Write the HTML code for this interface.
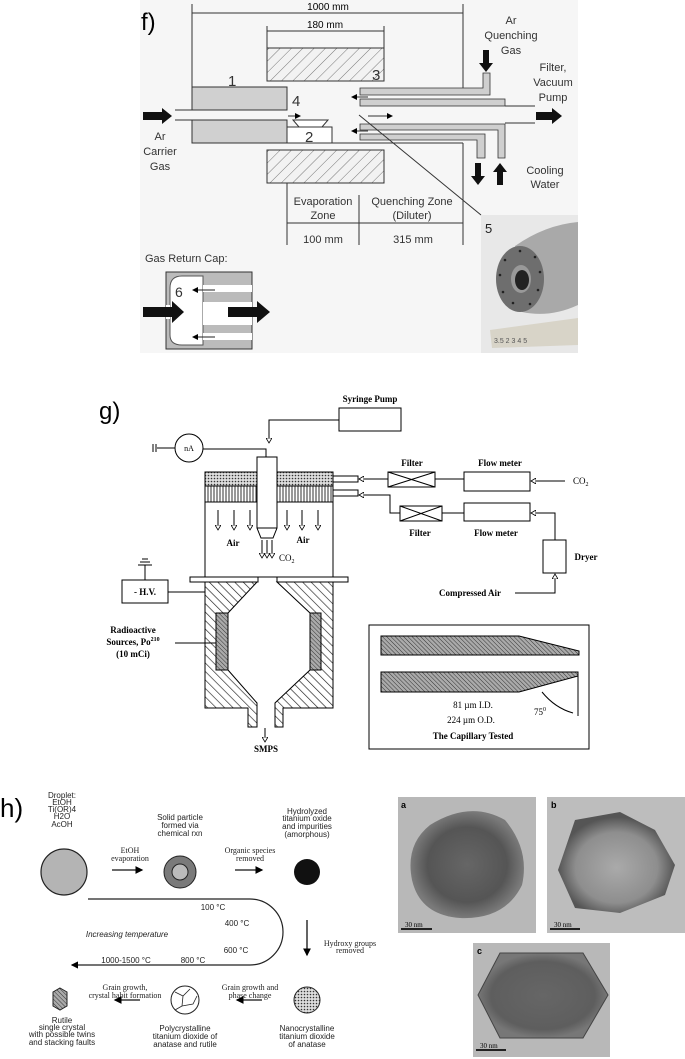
<!DOCTYPE html>
<html><head><meta charset="utf-8"><style>
html,body{margin:0;padding:0;background:#fff;}
svg{display:block;}
text{font-family:"Liberation Sans",sans-serif;}
.s, .s text, text.s{font-family:"Liberation Serif",serif;}
</style></head><body>
<svg width="685" height="1059" viewBox="0 0 685 1059" xmlns="http://www.w3.org/2000/svg">
<defs>
<pattern id="h1" width="8" height="8" patternUnits="userSpaceOnUse" patternTransform="rotate(45)"><rect width="8" height="8" fill="#f2f2f2"/><line x1="0" y1="0" x2="0" y2="8" stroke="#777" stroke-width="1"/></pattern>
<pattern id="h2" width="6" height="6" patternUnits="userSpaceOnUse" patternTransform="rotate(-45)"><rect width="6" height="6" fill="#fff"/><line x1="0" y1="0" x2="0" y2="6" stroke="#222" stroke-width="1.3"/></pattern>
<pattern id="h3" width="3" height="3" patternUnits="userSpaceOnUse" patternTransform="rotate(-45)"><rect width="3" height="3" fill="#aaa"/><line x1="0" y1="0" x2="0" y2="3" stroke="#333" stroke-width="1"/></pattern>
<pattern id="dots" width="3" height="3" patternUnits="userSpaceOnUse"><rect width="3" height="3" fill="#ddd"/><circle cx="1.5" cy="1.5" r="0.8" fill="#333"/></pattern>
<pattern id="vl" width="3" height="3" patternUnits="userSpaceOnUse"><rect width="3" height="3" fill="#fff"/><line x1="1" y1="0" x2="1" y2="3" stroke="#333" stroke-width="1"/></pattern>
<radialGradient id="ga" cx="50%" cy="50%" r="50%"><stop offset="0" stop-color="#666"/><stop offset="0.7" stop-color="#555"/><stop offset="1" stop-color="#7a7a7a"/></radialGradient>
<radialGradient id="gb" cx="50%" cy="55%" r="50%"><stop offset="0" stop-color="#aaa"/><stop offset="0.7" stop-color="#8e8e8e"/><stop offset="1" stop-color="#555"/></radialGradient>
<radialGradient id="gc" cx="50%" cy="50%" r="50%"><stop offset="0" stop-color="#666"/><stop offset="0.8" stop-color="#5e5e5e"/><stop offset="1" stop-color="#777"/></radialGradient>
<marker id="oa" markerWidth="6" markerHeight="6" refX="5" refY="3" orient="auto"><path d="M0,0 L5,3 L0,6 Z" fill="#fff" stroke="#000" stroke-width="0.8"/></marker>
<marker id="fa" markerWidth="6" markerHeight="6" refX="5" refY="3" orient="auto"><path d="M0,0 L6,3 L0,6 Z" fill="#000"/></marker>
</defs>

<!-- ================= f ================= -->
<rect x="140" y="0" width="438" height="353" fill="#f6f6f6"/>
<text x="141" y="30" font-size="24">f)</text>
<g stroke="#333" stroke-width="1" fill="none">
<line x1="192" y1="4" x2="192" y2="87"/><line x1="463" y1="4" x2="463" y2="88"/>
<line x1="192" y1="13" x2="463" y2="13"/>
<line x1="267" y1="26" x2="267" y2="48"/><line x1="384" y1="26" x2="384" y2="48"/>
<line x1="267" y1="31" x2="384" y2="31"/>
</g>
<text x="328" y="10" font-size="10" text-anchor="middle">1000 mm</text>
<text x="325" y="28" font-size="10" text-anchor="middle">180 mm</text>
<rect x="267" y="48" width="117" height="33" fill="url(#h1)" stroke="#333"/>
<rect x="267" y="150" width="117" height="33" fill="url(#h1)" stroke="#333"/>
<text x="372" y="80" font-size="15" fill="#333">3</text>
<rect x="192" y="87" width="95" height="23" fill="#d0d0d0" stroke="#333"/>
<rect x="192" y="120" width="95" height="23" fill="#d0d0d0" stroke="#333"/>
<text x="228" y="86" font-size="15" fill="#333">1</text>
<text x="292" y="106" font-size="15" fill="#333">4</text>
<line x1="175" y1="110" x2="192" y2="110" stroke="#333"/><line x1="175" y1="120" x2="192" y2="120" stroke="#333"/>
<line x1="287" y1="143" x2="463" y2="143" stroke="#333"/>
<rect x="287" y="127" width="45" height="16" fill="#fff" stroke="#333"/>
<path d="M293,120 L328,120 L322,127 L299,127 Z" fill="#fff" stroke="#333"/>
<text x="305" y="142" font-size="15" fill="#333">2</text>
<g fill="#cfcfcf" stroke="#333" stroke-width="0.8">
<path d="M360,88 L483,88 L483,73 L490,73 L490,95 L360,95 Z"/>
<rect x="360" y="99" width="145" height="7"/>
<path d="M360,124 L505,124 L505,158 L498,158 L498,130 L360,130 Z"/>
<path d="M360,134 L485,134 L485,158 L477,158 L477,140 L360,140 Z"/>
</g>
<line x1="505" y1="106" x2="535" y2="106" stroke="#333"/><line x1="505" y1="123" x2="535" y2="123" stroke="#333"/>
<line x1="463" y1="143" x2="463" y2="245" stroke="#333"/>
<g stroke="#333" stroke-width="1">
<line x1="288" y1="116" x2="300" y2="116" marker-end="url(#fa)"/>
<line x1="368" y1="116" x2="392" y2="116" marker-end="url(#fa)"/>
<line x1="368" y1="97" x2="352" y2="97" marker-end="url(#fa)"/>
<line x1="368" y1="131" x2="352" y2="131" marker-end="url(#fa)"/>
<line x1="359" y1="115" x2="481" y2="215"/>
</g>
<g fill="#111">
<path d="M143,112 L162,112 L162,108 L172,116 L162,124 L162,120 L143,120 Z"/>
<path d="M536,112 L552,112 L552,108 L562,116 L552,124 L552,120 L536,120 Z"/>
<path d="M483,50 L489,50 L489,63 L493,63 L486,72 L479,63 L483,63 Z"/>
<path d="M475,163 L481,163 L481,176 L485,176 L478,185 L471,176 L475,176 Z"/>
<path d="M497,185 L503,185 L503,172 L507,172 L500,163 L493,172 L497,172 Z"/>
</g>
<text font-size="11" text-anchor="middle" fill="#333"><tspan x="160" y="140">Ar</tspan><tspan x="160" y="155">Carrier</tspan><tspan x="160" y="170">Gas</tspan></text>
<text font-size="11" text-anchor="middle" fill="#333"><tspan x="511" y="24">Ar</tspan><tspan x="511" y="39">Quenching</tspan><tspan x="511" y="54">Gas</tspan></text>
<text font-size="11" text-anchor="middle" fill="#333"><tspan x="553" y="71">Filter,</tspan><tspan x="553" y="86">Vacuum</tspan><tspan x="553" y="101">Pump</tspan></text>
<text font-size="11" text-anchor="middle" fill="#333"><tspan x="545" y="174">Cooling</tspan><tspan x="545" y="188">Water</tspan></text>
<g stroke="#333"><line x1="287" y1="183" x2="287" y2="245"/><line x1="359" y1="195" x2="359" y2="245"/>
<line x1="287" y1="223" x2="463" y2="223"/></g>
<text font-size="11" text-anchor="middle" fill="#333"><tspan x="323" y="205">Evaporation</tspan><tspan x="323" y="219">Zone</tspan></text>
<text font-size="11" text-anchor="middle" fill="#333"><tspan x="412" y="205">Quenching Zone</tspan><tspan x="412" y="219">(Diluter)</tspan></text>
<text x="323" y="243" font-size="11" text-anchor="middle" fill="#333">100 mm</text>
<text x="413" y="243" font-size="11" text-anchor="middle" fill="#333">315 mm</text>
<text x="145" y="262" font-size="11" fill="#333">Gas Return Cap:</text>
<rect x="166" y="272" width="86" height="77" fill="#bbb" stroke="#333"/>
<path d="M182,276 Q170,276 170,288 L170,335 Q170,345 182,345 L203,345 L203,276 Z" fill="#fff" stroke="#555"/>
<g fill="#fff"><rect x="203" y="285" width="49" height="7"/><rect x="203" y="302" width="49" height="23"/><rect x="203" y="333" width="49" height="7"/></g>
<rect x="166" y="305" width="4" height="14" fill="#fff"/>
<text x="175" y="297" font-size="14" fill="#333">6</text>
<g stroke="#222"><line x1="215" y1="290" x2="193" y2="290" marker-end="url(#fa)"/><line x1="215" y1="337" x2="193" y2="337" marker-end="url(#fa)"/></g>
<g fill="#111"><path d="M143,307 L172,307 L172,301 L184,312 L172,323 L172,317 L143,317 Z"/>
<path d="M228,307 L257,307 L257,301 L270,312 L257,323 L257,317 L228,317 Z"/></g>
<!-- photo -->
<rect x="481" y="215" width="97" height="138" fill="#e8e8e8"/>
<path d="M515,246 Q545,225 578,222 L578,305 Q550,318 522,312 Z" fill="#a9a9a9"/>
<ellipse cx="520" cy="279" rx="24" ry="33" fill="#6e6e6e"/>
<ellipse cx="521" cy="279" rx="10" ry="14" fill="#999"/><ellipse cx="522" cy="280" rx="7" ry="10" fill="#222"/>
<g fill="#222"><circle cx="505" cy="260" r="1.3"/><circle cx="500" cy="275" r="1.3"/><circle cx="503" cy="292" r="1.3"/><circle cx="513" cy="303" r="1.3"/><circle cx="530" cy="304" r="1.3"/><circle cx="538" cy="290" r="1.3"/><circle cx="540" cy="272" r="1.3"/><circle cx="535" cy="257" r="1.3"/><circle cx="520" cy="251" r="1.3"/></g>
<path d="M490,330 L578,318 L578,345 L492,348 Z" fill="#d8d4c8"/>
<text x="494" y="343" font-size="7" fill="#555">3.5 2 3 4 5</text>
<text x="485" y="233" font-size="13" fill="#222">5</text>

<!-- ================= g ================= -->
<text x="99" y="419" font-size="24">g)</text>
<text x="370" y="402" font-size="9" class="s" text-anchor="middle" font-weight="bold">Syringe Pump</text>
<rect x="339" y="408" width="62" height="23" fill="none" stroke="#000"/>
<path d="M339,420 L269,420 L269,443" fill="none" stroke="#000" marker-end="url(#oa)"/>
<circle cx="189" cy="448" r="14" fill="none" stroke="#000"/>
<text x="189" y="451" font-size="8" class="s" text-anchor="middle">nA</text>
<line x1="153" y1="444" x2="153" y2="452" stroke="#000"/><line x1="156" y1="444" x2="156" y2="452" stroke="#000"/>
<line x1="157" y1="448" x2="175" y2="448" stroke="#000"/>
<path d="M203,449 L266,449 L266,457" fill="none" stroke="#000"/>
<rect x="205" y="472" width="128" height="105" fill="#fff" stroke="#000"/>
<rect x="205" y="472" width="57" height="14" fill="url(#dots)" stroke="#000"/>
<rect x="273" y="472" width="60" height="14" fill="url(#dots)" stroke="#000"/>
<rect x="205" y="486" width="57" height="16" fill="url(#vl)" stroke="#000"/>
<rect x="273" y="486" width="60" height="16" fill="url(#vl)" stroke="#000"/>
<path d="M257,457 L277,457 L277,528 L273,538 L261,538 L257,528 Z" fill="#fff" stroke="#000"/>
<line x1="257" y1="528" x2="277" y2="528" stroke="#000"/>
<g stroke="#000" fill="none">
<line x1="218" y1="510" x2="218" y2="530" marker-end="url(#oa)"/><line x1="234" y1="510" x2="234" y2="530" marker-end="url(#oa)"/><line x1="250" y1="510" x2="250" y2="530" marker-end="url(#oa)"/>
<line x1="287" y1="510" x2="287" y2="530" marker-end="url(#oa)"/><line x1="302" y1="510" x2="302" y2="530" marker-end="url(#oa)"/><line x1="318" y1="510" x2="318" y2="530" marker-end="url(#oa)"/>
<line x1="262" y1="540" x2="262" y2="558" marker-end="url(#oa)"/><line x1="267" y1="540" x2="267" y2="558" marker-end="url(#oa)"/><line x1="272" y1="540" x2="272" y2="558" marker-end="url(#oa)"/>
</g>
<text x="233" y="546" font-size="9" class="s" text-anchor="middle" font-weight="bold">Air</text>
<text x="303" y="543" font-size="9" class="s" text-anchor="middle" font-weight="bold">Air</text>
<text x="279" y="561" font-size="9" class="s">CO<tspan font-size="6" dy="2">2</tspan></text>
<rect x="333" y="476" width="25" height="6" fill="#fff" stroke="#000"/>
<rect x="333" y="490" width="25" height="6" fill="#fff" stroke="#000"/>
<g stroke="#000" fill="none">
<line x1="388" y1="479" x2="359" y2="479" marker-end="url(#oa)"/>
<line x1="435" y1="479" x2="464" y2="479"/>
<line x1="565" y1="481" x2="531" y2="481" marker-end="url(#oa)"/>
<path d="M400,513 L390,513 L390,495 L359,495" marker-end="url(#oa)"/>
<line x1="442" y1="513" x2="464" y2="513"/>
<path d="M555,540 L555,513 L531,513" marker-end="url(#oa)"/>
<path d="M515,593 L555,593 L555,574" marker-end="url(#oa)"/>
</g>
<rect x="388" y="472" width="47" height="15" fill="#fff" stroke="#000"/><path d="M388,472 L435,487 M435,472 L388,487" stroke="#000"/>
<rect x="400" y="506" width="42" height="15" fill="#fff" stroke="#000"/><path d="M400,506 L442,521 M442,506 L400,521" stroke="#000"/>
<rect x="464" y="472" width="66" height="19" fill="#fff" stroke="#000"/>
<rect x="464" y="503" width="66" height="18" fill="#fff" stroke="#000"/>
<rect x="543" y="540" width="23" height="33" fill="#fff" stroke="#000"/>
<g font-size="9" class="s" font-weight="bold" text-anchor="middle">
<text x="412" y="466">Filter</text><text x="500" y="466">Flow meter</text>
<text x="420" y="536">Filter</text><text x="496" y="536">Flow meter</text>
<text x="586" y="560">Dryer</text><text x="470" y="596">Compressed Air</text>
<text x="266" y="752">SMPS</text>
</g>
<text x="573" y="484" font-size="9" class="s">CO<tspan font-size="6" dy="2">2</tspan></text>
<rect x="190" y="577" width="68" height="5" fill="#fff" stroke="#000"/>
<rect x="277" y="577" width="71" height="5" fill="#fff" stroke="#000"/>
<path d="M205,582 L257,582 L228,613 L228,670 L257,703 L257,727 L248,727 L248,708 L205,708 Z" fill="url(#h2)" stroke="#000"/>
<path d="M333,582 L277,582 L310,613 L310,670 L275,703 L275,727 L283,727 L283,708 L333,708 Z" fill="url(#h2)" stroke="#000"/>
<rect x="216" y="613" width="12" height="57" fill="url(#h3)" stroke="#000"/>
<rect x="310" y="613" width="11" height="57" fill="url(#h3)" stroke="#000"/>
<line x1="265" y1="728" x2="265" y2="742" stroke="#000" marker-end="url(#oa)"/>
<rect x="122" y="580" width="46" height="23" fill="#fff" stroke="#000"/>
<text x="145" y="595" font-size="9" class="s" text-anchor="middle" font-weight="bold">- H.V.</text>
<line x1="168" y1="592" x2="205" y2="592" stroke="#000"/>
<line x1="145" y1="565" x2="145" y2="580" stroke="#000"/>
<line x1="138" y1="565" x2="152" y2="565" stroke="#000"/><line x1="140" y1="562" x2="150" y2="562" stroke="#000"/><line x1="142" y1="559" x2="148" y2="559" stroke="#000"/>
<g font-size="9" class="s" font-weight="bold" text-anchor="middle"><text x="133" y="633">Radioactive</text><text x="133" y="645">Sources, Po<tspan font-size="6" dy="-4">210</tspan></text><text x="133" y="657">(10 mCi)</text></g>
<line x1="175" y1="643" x2="216" y2="643" stroke="#000"/>
<rect x="369" y="625" width="220" height="124" fill="#fff" stroke="#000"/>
<path d="M381,636 L519,636 L579,651 L579,655 L381,655 Z" fill="url(#h3)" stroke="#000"/>
<path d="M381,672 L578,672 L578,676 L519,692 L381,692 Z" fill="url(#h3)" stroke="#000"/>
<line x1="578" y1="672" x2="578" y2="716" stroke="#000"/>
<path d="M542,692 Q555,708 573,713" fill="none" stroke="#000"/>
<g font-size="9" class="s" text-anchor="middle"><text x="473" y="708">81 µm I.D.</text><text x="471" y="723">224 µm O.D.</text><text x="473" y="739" font-weight="bold">The Capillary Tested</text></g>
<text x="534" y="715" font-size="9" class="s">75<tspan font-size="6" dy="-4">0</tspan></text>

<!-- ================= h ================= -->
<text x="0" y="817" font-size="26">h)</text>
<g font-size="8" text-anchor="middle" fill="#222">
<text x="62" y="798">Droplet:</text><text x="62" y="805">EtOH</text><text x="62" y="812">Ti(OR)4</text><text x="62" y="819">H2O</text><text x="62" y="827">AcOH</text>
<text x="180" y="820">Solid particle</text><text x="180" y="828">formed via</text><text x="180" y="836">chemical rxn</text>
<text x="307" y="814">Hydrolyzed</text><text x="307" y="821">titanium oxide</text><text x="307" y="829">and impurities</text><text x="307" y="837">(amorphous)</text>
<text x="213" y="910">100 °C</text><text x="237" y="926">400 °C</text><text x="236" y="953">600 °C</text>
<text x="126" y="963">1000-1500 °C</text><text x="193" y="963">800 °C</text>
<text x="127" y="937" font-style="italic">Increasing temperature</text>
<text x="62" y="1023">Rutile</text><text x="62" y="1030">single crystal</text><text x="62" y="1037">with possible twins</text><text x="62" y="1045">and stacking faults</text>
<text x="185" y="1031">Polycrystalline</text><text x="185" y="1039">titanium dioxide of</text><text x="185" y="1047">anatase and rutile</text>
<text x="307" y="1031">Nanocrystalline</text><text x="307" y="1039">titanium dioxide</text><text x="307" y="1047">of anatase</text>
</g>
<g font-size="8" class="s" text-anchor="middle" fill="#222">
<text x="130" y="853">EtOH</text><text x="130" y="861">evaporation</text>
<text x="250" y="853">Organic species</text><text x="250" y="861">removed</text>
<text x="350" y="946">Hydroxy groups</text><text x="350" y="953">removed</text>
<text x="125" y="990">Grain growth,</text><text x="125" y="998">crystal habit formation</text>
<text x="250" y="990">Grain growth and</text><text x="250" y="998">phase change</text>
</g>
<circle cx="64" cy="872" r="23" fill="#b4b4b4" stroke="#222" stroke-width="1.2"/>
<circle cx="180" cy="872" r="16" fill="#7a7a7a" stroke="#222"/><circle cx="180" cy="872" r="8" fill="#bbb" stroke="#222"/>
<circle cx="307" cy="872" r="13" fill="#111"/>
<g stroke="#111" stroke-width="1.3"><line x1="112" y1="870" x2="142" y2="870" marker-end="url(#fa)"/><line x1="235" y1="870" x2="262" y2="870" marker-end="url(#fa)"/>
<line x1="307" y1="920" x2="307" y2="955" marker-end="url(#fa)"/>
<line x1="140" y1="1000" x2="115" y2="1000" marker-end="url(#fa)"/><line x1="262" y1="1000" x2="237" y2="1000" marker-end="url(#fa)"/></g>
<path d="M88,899 L250,899 A33,33 0 0 1 250,965 L72,965" fill="none" stroke="#222" stroke-width="1.2" marker-end="url(#fa)"/>
<path d="M60,988 L67,992 L67,1006 L60,1010 L53,1006 L53,992 Z" fill="url(#h3)" stroke="#222"/>
<circle cx="185" cy="1000" r="14" fill="#fff" stroke="#222"/>
<path d="M175,992 L183,996 L190,989 M183,996 L182,1006 L175,1010 M182,1006 L193,1004 L197,996" fill="none" stroke="#222" stroke-width="0.8"/>
<circle cx="307" cy="1000" r="13" fill="url(#dots)" stroke="#222"/>
<rect x="398" y="797" width="138" height="136" fill="#b8b8b8"/>
<path d="M430,825 Q470,800 505,820 Q530,850 522,885 Q505,920 460,918 Q420,915 412,880 Q405,845 430,825 Z" fill="url(#ga)"/>
<line x1="401" y1="929" x2="432" y2="929" stroke="#222" stroke-width="2"/><text x="405" y="927" font-size="7" class="s">30 nm</text>
<text x="401" y="808" font-size="9" font-weight="bold">a</text>
<rect x="547" y="797" width="138" height="136" fill="#bdbdbd"/>
<path d="M575,820 L620,812 L655,830 L675,865 L665,895 L620,913 L575,908 L558,870 Z" fill="url(#gb)"/>
<line x1="550" y1="929" x2="580" y2="929" stroke="#222" stroke-width="2"/><text x="554" y="927" font-size="7" class="s">30 nm</text>
<text x="551" y="808" font-size="9" font-weight="bold">b</text>
<rect x="473" y="943" width="137" height="114" fill="#b8b8b8"/>
<path d="M500,953 L583,953 L608,995 L583,1038 L500,1038 L478,995 Z" fill="url(#gc)" stroke="#444"/>
<line x1="476" y1="1050" x2="506" y2="1050" stroke="#222" stroke-width="2"/><text x="480" y="1048" font-size="7" class="s">30 nm</text>
<text x="477" y="954" font-size="9" font-weight="bold">c</text>
</svg>
</body></html>
